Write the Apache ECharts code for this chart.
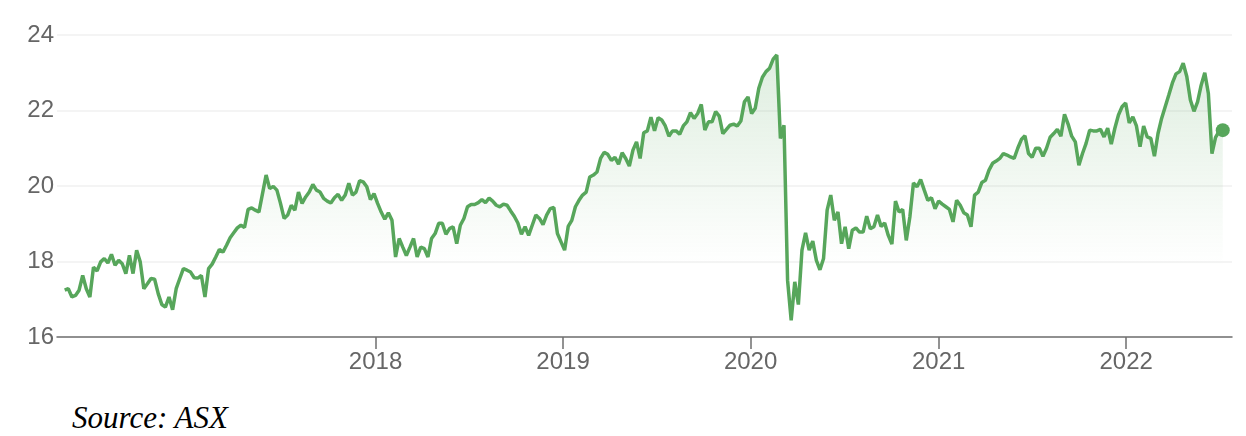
<!DOCTYPE html>
<html>
<head>
<meta charset="utf-8">
<script src="https://cdn.jsdelivr.net/npm/echarts@6/dist/echarts.min.js"></script>
<style>
  html, body { margin: 0; padding: 0; background: #fff; }
  #chart { width: 1246px; height: 400px; }
  .source {
    position: absolute; left: 72px; top: 400px;
    font-family: "Liberation Serif", "DejaVu Serif", serif;
    font-style: italic; font-size: 31px; color: #000;
  }
</style>
</head>
<body>
<div id="chart"></div>
<div class="source">Source: ASX</div>
<script>
// weekly closing prices, first week ending 2016-05-06
const startDate = Date.UTC(2016, 4, 6)
const weekMs = 7 * 24 * 3600 * 1000

const prices2016 = [17.24, 17.28, 17.06, 17.1, 17.24, 17.63, 17.28, 17.06, 17.85, 17.75, 17.99, 18.08, 17.96, 18.19, 17.90, 18.03, 17.94, 17.68, 18.16, 17.68, 18.30, 17.99, 17.28, 17.41, 17.55, 17.53, 17.15, 16.86, 16.79, 17.06, 16.72, 17.28, 17.55, 17.81, 17.77, 17.72, 17.57, 17.56, 17.63, 17.06, 17.81, 17.93, 18.12, 18.32, 18.25, 18.43, 18.63, 18.76, 18.89, 18.96, 18.90, 19.38, 19.42, 19.36]
const prices2017 = [19.31, 19.80, 20.29, 19.93, 19.99, 19.89, 19.54, 19.14, 19.23, 19.49, 19.36, 19.84, 19.54, 19.71, 19.84, 20.04, 19.89, 19.84, 19.67, 19.60, 19.55, 19.69, 19.78, 19.62, 19.76, 20.07, 19.76, 19.84, 20.14, 20.11, 19.98, 19.64, 19.80, 19.54, 19.31, 19.12, 19.29, 19.09, 18.12, 18.61, 18.38, 18.16, 18.38, 18.61, 18.12, 18.38, 18.34, 18.12, 18.61, 18.74, 19.01, 19.01, 18.72, 18.87]
const prices2018 = [18.92, 18.47, 18.96, 19.14, 19.45, 19.51, 19.51, 19.56, 19.64, 19.56, 19.68, 19.60, 19.49, 19.45, 19.52, 19.49, 19.34, 19.20, 19.02, 18.72, 18.92, 18.69, 18.96, 19.23, 19.14, 18.98, 19.23, 19.40, 19.43, 18.74, 18.52, 18.30, 18.93, 19.09, 19.45, 19.62, 19.76, 19.84, 20.24, 20.29, 20.37, 20.73, 20.89, 20.84, 20.68, 20.76, 20.58, 20.88, 20.73, 20.53, 20.95, 21.17, 20.73, 21.41]
const prices2019 = [21.46, 21.82, 21.46, 21.81, 21.75, 21.59, 21.32, 21.46, 21.46, 21.37, 21.59, 21.70, 21.94, 21.79, 21.92, 22.16, 21.48, 21.70, 21.70, 21.97, 21.85, 21.39, 21.50, 21.61, 21.64, 21.59, 21.72, 22.23, 22.36, 21.92, 22.06, 22.59, 22.88, 23.03, 23.12, 23.36, 23.47, 21.26, 21.61, 17.50, 16.44, 17.46, 16.86, 18.30, 18.76, 18.30, 18.54, 18.03, 17.78, 18.08, 19.36, 19.76, 19.09, 19.31, 18.47]
const prices2020 = [18.92, 18.34, 18.83, 18.89, 18.78, 18.78, 19.20, 18.87, 18.92, 19.23, 18.93, 19.02, 18.69, 18.46, 19.60, 19.31, 19.38, 18.56, 19.18, 20.08, 19.98, 20.17, 19.89, 19.62, 19.69, 19.40, 19.60, 19.52, 19.45, 19.38, 19.05, 19.62, 19.49, 19.29, 19.23, 18.92, 19.76, 19.84, 20.09, 20.15, 20.42, 20.60, 20.66, 20.73, 20.86, 20.82, 20.77, 20.73, 21.00, 21.23, 21.33, 20.86, 20.76, 21.00]
const prices2021 = [21.00, 20.79, 21.00, 21.29, 21.39, 21.50, 21.32, 21.90, 21.64, 21.32, 21.17, 20.55, 20.86, 21.13, 21.48, 21.46, 21.46, 21.50, 21.30, 21.53, 21.11, 21.53, 21.88, 22.10, 22.20, 21.67, 21.83, 21.59, 21.04, 21.59, 21.30, 21.26, 20.79, 21.39, 21.79, 22.10, 22.41, 22.73, 22.97, 23.03, 23.25, 22.90, 22.28, 21.98, 22.23, 22.67, 23.00, 22.45, 20.86, 21.29, 21.45, 21.48]

const yTicks = [16, 18, 20, 22, 24]
const yearTicks = [2018, 2019, 2020, 2021, 2022]

const prices = [].concat(prices2016, prices2017, prices2018, prices2019, prices2020, prices2021)
const seriesData = prices.map((v, i) => [startDate + i * weekMs, v])
const lastPoint = seriesData[seriesData.length - 1]
const yearStamps = yearTicks.map(y => Date.UTC(y, 0, 1))

const green = '#57a65b'
const chart = echarts.init(document.getElementById('chart'))
chart.setOption({
  animation: false,
  grid: { left: 57, right: 14, top: 35, bottom: 63 },
  xAxis: {
    // timestamps on a value axis, labels only at Jan 1 of each year
    type: 'value',
    min: Date.UTC(2016, 3, 21),
    max: Date.UTC(2022, 6, 26),
    axisLine: { lineStyle: { color: '#6f6f6f', width: 1.5 } },
    axisTick: { show: true, length: 12, customValues: yearStamps, lineStyle: { color: '#6f6f6f', width: 1.5 } },
    axisLabel: {
      customValues: yearStamps,
      formatter: function (v) { return String(new Date(v).getUTCFullYear()) },
      color: '#666',
      fontSize: 24,
      fontFamily: 'Liberation Sans, Arial, sans-serif',
      margin: 13
    },
    splitLine: { show: false }
  },
  yAxis: {
    type: 'value',
    min: yTicks[0],
    max: yTicks[yTicks.length - 1],
    interval: 2,
    axisLine: { show: false },
    axisTick: { show: false },
    axisLabel: {
      color: '#666',
      fontSize: 24,
      fontFamily: 'Liberation Sans, Arial, sans-serif',
      margin: 3
    },
    splitLine: { lineStyle: { color: '#f0f0f0', width: 1.5 } }
  },
  series: [
    {
      type: 'line',
      data: seriesData,
      showSymbol: false,
      lineStyle: { color: green, width: 3.5 },
      itemStyle: { color: green },
      areaStyle: {
        color: new echarts.graphic.LinearGradient(0, 0, 0, 1, [
          { offset: 0, color: 'rgba(87,166,91,0.28)' },
          { offset: 0.75, color: 'rgba(87,166,91,0.0)' }
        ])
      }
    },
    {
      // end marker
      type: 'scatter',
      data: [lastPoint],
      symbolSize: 14,
      itemStyle: { color: green, opacity: 1 }
    }
  ]
})
</script>
</body>
</html>
